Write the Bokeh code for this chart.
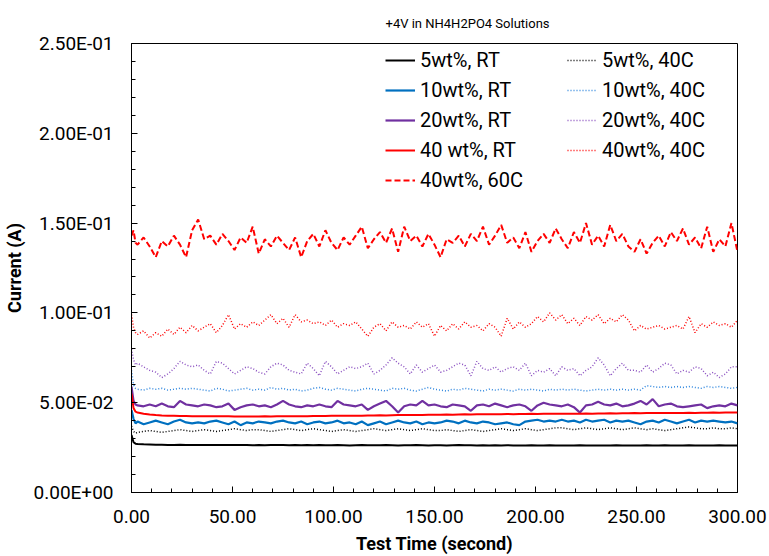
from bokeh.plotting import figure
from bokeh.models import (SingleIntervalTicker, CustomJSTickFormatter, PrintfTickFormatter,
                          Legend, LegendItem, Range1d)
from bokeh.embed import file_html
from bokeh.resources import INLINE

# ---------------- data (currents in mA, time in s) ----------------
time_s = [0, 1, 2] + list(range(3, 301, 3))

i_5wt_RT = [32, 28, 27.2,
    27, 26.8, 26.7, 26.6, 26.6, 26.5, 26.5, 26.6, 26.5, 26.4,
    26.5, 26.4, 26.5, 26.4, 26.5, 26.4, 26.4, 26.5, 26.4, 26.3,
    26.4, 26.3, 26.4, 26.5, 26.4, 26.3, 26.4, 26.3, 26.4, 26.3,
    26.4, 26.3, 26.3, 26.4, 26.3, 26.2, 26.3, 26.4, 26.3, 26.3,
    26.3, 26.4, 26.3, 26.2, 26.3, 26.3, 26.4, 26.3, 26.2, 26.3,
    26.3, 26.2, 26.3, 26.4, 26.3, 26.3, 26.2, 26.3, 26.2, 26.3,
    26.2, 26.3, 26.2, 26.1, 26.2, 26.3, 26.2, 26.2, 26.3, 26.2,
    26.2, 26.1, 26.2, 26.3, 26.2, 26.2, 26.1, 26.2, 26.2, 26.3,
    26.2, 26.2, 26.1, 26.2, 26.3, 26.2, 26.2, 26.3, 26.2, 26.2,
    26.2, 26.3, 26.2, 26.1, 26.2, 26.2, 26.3, 26.2, 26.2, 26.2]

i_10wt_RT = [46, 41, 38.5,
    39.5, 38, 39, 40, 39, 38, 39.5, 40.5, 39, 38.5,
    39, 38.5, 39.5, 40, 39, 38, 39.5, 37.5, 39, 38.5,
    39.5, 39, 38.5, 39.5, 40, 39, 38.5, 39.5, 38, 39,
    39.5, 38.5, 39, 40, 38.5, 39, 38, 39.5, 37.5, 38.5,
    39.5, 38, 39, 40, 39, 38.5, 39.5, 38, 39, 38.5,
    39, 40, 39.5, 38.5, 40, 39, 38.5, 39.5, 39, 38,
    38.5, 39, 38, 37.5, 39.5, 40, 40.5, 39.5, 40, 39.5,
    40.5, 39.5, 40, 39, 40.5, 39.5, 40, 40.5, 39, 40,
    39.5, 40, 39, 38, 39.5, 40, 39, 40.5, 39.5, 38.5,
    39.5, 40.5, 39, 40, 39.5, 40, 39.5, 39, 39.5, 38.5]

i_20wt_RT = [59, 51, 49,
    48.5, 48, 49, 48, 49.5, 48, 47.5, 51, 49, 48.5,
    48, 49, 48.5, 47.5, 48, 49.5, 46, 47.5, 48.5, 49,
    48, 48.5, 47.5, 49, 51, 49, 48, 47.5, 48.5, 48,
    49, 48, 47.5, 51, 49, 48.5, 48, 49, 46, 48,
    49.5, 51, 48, 44.5, 48, 49, 48.5, 51, 48.5, 49,
    48, 47.5, 49, 48.5, 48, 45.5, 48.5, 49, 48, 49.5,
    48.5, 47.5, 48.5, 49, 48, 45.5, 48.5, 50, 49, 48.5,
    48, 49, 47.5, 44.5, 48.5, 49, 50.5, 49, 48.5, 49.5,
    48, 48.5, 49.5, 51, 49, 52, 48, 49, 49.5, 48,
    47.5, 48, 48.5, 49, 47, 48, 48.5, 48, 49.5, 48.5]

i_40wt_RT = [55, 47, 45,
    44.5, 43.8, 43.4, 43.1, 42.9, 42.8, 42.7, 42.6, 42.6, 42.5,
    42.5, 42.5, 42.4, 42.4, 42.4, 42.4, 42.3, 42.3, 42.3, 42.3,
    42.3, 42.4, 42.3, 42.4, 42.4, 42.5, 42.4, 42.5, 42.5, 42.6,
    42.6, 42.6, 42.7, 42.7, 42.8, 42.7, 42.8, 42.8, 42.9, 42.9,
    43.0, 42.9, 43.0, 43.1, 43.1, 43.2, 43.1, 43.2, 43.3, 43.3,
    43.3, 43.4, 43.3, 43.4, 43.5, 43.4, 43.5, 43.5, 43.6, 43.6,
    43.6, 43.7, 43.6, 43.7, 43.7, 43.8, 43.7, 43.8, 43.8, 43.9,
    43.9, 43.9, 43.8, 43.9, 44.0, 43.9, 44.0, 44.0, 44.1, 44.0,
    44.1, 44.1, 44.2, 44.1, 44.2, 44.2, 44.3, 44.2, 44.3, 44.3,
    44.3, 44.4, 44.3, 44.4, 44.4, 44.5, 44.4, 44.5, 44.5, 44.5]

i_5wt_40C = [37, 34, 33,
    33.5, 34, 34.5, 34, 33.5, 34, 34.5, 35, 34.5, 34,
    34.5, 35, 34.5, 34, 34.5, 35, 35.5, 35, 34.5, 35,
    35, 34.5, 34, 34.5, 35, 35.5, 35, 34.5, 35, 35.5,
    35, 34.5, 34, 34.5, 35, 34.5, 34, 34.5, 35, 35.5,
    35, 34.5, 35, 35.5, 35, 34.5, 35, 35.5, 35, 34.5,
    34.5, 35, 34.5, 34, 34.5, 35, 34.5, 34, 34.5, 35,
    35.5, 35, 34.5, 35, 35.5, 35, 34.5, 35, 35.5, 36,
    36, 35.5, 35, 35.5, 36, 35.5, 35, 35.5, 36, 35.5,
    35, 35.5, 36, 35.5, 35, 35.5, 35, 34.5, 35, 35.5,
    36, 36.5, 36, 35.5, 35.5, 36, 35.5, 35.5, 36, 35.5]

i_10wt_40C = [68, 60, 58,
    57.5, 57, 58, 57.5, 58, 57, 57.5, 58, 57.5, 58,
    57.5, 57, 56.5, 58, 57.5, 56.5, 57, 57.5, 58, 57,
    57.5, 57, 58.5, 57.5, 58, 57, 57.5, 56.5, 57, 58,
    58.5, 57.5, 57, 58, 57.5, 57, 56.5, 57.5, 58, 57.5,
    57, 56.5, 58, 57.5, 58, 57, 56.5, 57.5, 58.5, 57.5,
    57, 56.5, 57.5, 57, 58, 57.5, 57, 56.5, 57.5, 57,
    57.5, 57, 56.5, 57.5, 57, 57.5, 57, 56.5, 57.5, 57,
    57.5, 57, 57.5, 57, 56.5, 57, 57.5, 57, 57.5, 57,
    57.5, 57, 57.5, 57, 59.5, 59, 58.5, 59, 58.5, 59,
    58.5, 59, 58.5, 58, 59, 58.5, 59, 58.5, 58, 58.5]

i_20wt_40C = [80, 74, 71,
    72, 70, 68, 67, 64, 66, 69, 73, 71, 70,
    71, 68, 66, 73, 72, 69, 66, 68, 70, 69,
    67, 66, 70, 72, 71, 68, 67, 66, 72, 69,
    65, 73, 70, 66, 68, 70, 69, 70, 72, 66,
    68, 71, 75, 72, 70, 66, 71, 67, 69, 71,
    67, 68, 70, 72, 71, 65, 73, 69, 68, 70,
    67, 69, 70, 68, 72, 65, 68, 67, 69, 65,
    70, 68, 69, 65, 68, 70, 75, 71, 65, 69,
    72, 68, 68, 67, 71, 67, 69, 72, 71, 66,
    68, 67, 70, 69, 65, 67, 64, 66, 70, 70]

i_40wt_40C = [99, 92, 89,
    88, 90, 86, 89, 87, 91, 88, 92, 89, 93,
    90, 92, 94, 89, 93, 99, 91, 94, 92, 95,
    93, 96, 99, 94, 97, 92, 99, 95, 96, 94,
    95, 93, 96, 92, 94, 93, 95, 91, 87, 92,
    94, 90, 95, 92, 93, 91, 95, 92, 94, 87,
    93, 90, 94, 91, 95, 92, 93, 90, 94, 92,
    87, 97, 91, 95, 92, 94, 98, 95, 100, 96,
    99, 94, 97, 93, 98, 96, 99, 94, 97, 95,
    99, 96, 90, 93, 91, 92, 93, 91, 92, 93,
    91, 98, 89, 94, 92, 95, 93, 94, 92, 96]

i_40wt_60C = [143, 146, 139,
    138, 142, 137, 131, 140, 137, 143, 138, 131, 146,
    152, 141, 143, 138, 144, 140, 135, 142, 139, 148,
    133, 141, 137, 143, 139, 135, 142, 131, 140, 144,
    137, 146, 139, 135, 142, 138, 143, 148, 136, 141,
    145, 139, 147, 134, 148, 140, 143, 137, 144, 138,
    131, 141, 139, 143, 137, 144, 140, 148, 138, 143,
    149, 139, 142, 136, 145, 134, 140, 144, 139, 147,
    141, 136, 145, 139, 150, 138, 143, 137, 149, 140,
    144, 137, 134, 141, 133, 139, 143, 137, 145, 140,
    147, 138, 142, 136, 148, 134, 141, 137, 150, 134]

labels = ["5wt%, RT", "10wt%, RT", "20wt%, RT", "40 wt%, RT",
          "5wt%, 40C", "10wt%, 40C", "20wt%, 40C", "40wt%, 40C", "40wt%, 60C"]
x_ticks_major = 50
y_ticks_major = 0.05

# ---------------- figure ----------------
FONT = "Roboto"
p = figure(width=769, height=556, output_backend="svg", toolbar_location=None,
           x_range=Range1d(0, 300), y_range=Range1d(0, 0.25),
           min_border_left=129, min_border_right=32, min_border_top=43, min_border_bottom=64,
           background_fill_color="white", border_fill_color="white")
p.outline_line_color = "black"
p.outline_line_width = 1
p.xgrid.visible = False
p.ygrid.visible = False

p.title.text = "+4V in NH4H2PO4 Solutions"
p.title.align = "left"
p.title.offset = 254
p.title.text_font = FONT
p.title.text_font_size = "13px"
p.title.text_font_style = "normal"
p.title.text_color = "black"
p.title.standoff = 26

for ax in (p.xaxis[0], p.yaxis[0]):
    ax.axis_line_color = "black"
    ax.axis_line_width = 1
    ax.major_tick_in = 6
    ax.major_tick_out = 0
    ax.minor_tick_in = 4
    ax.minor_tick_out = 0
    ax.major_tick_line_color = "black"
    ax.minor_tick_line_color = "black"
    ax.major_label_text_font = FONT
    ax.major_label_text_font_size = "19px"
    ax.major_label_text_color = "black"
    ax.axis_label_text_font = FONT
    ax.axis_label_text_font_size = "18px"
    ax.axis_label_text_font_style = "bold"
    ax.axis_label_text_color = "black"

p.xaxis.ticker = SingleIntervalTicker(interval=x_ticks_major, num_minor_ticks=5)
p.yaxis.ticker = SingleIntervalTicker(interval=y_ticks_major, num_minor_ticks=5)
p.xaxis.formatter = PrintfTickFormatter(format="%.2f")
p.yaxis.formatter = CustomJSTickFormatter(code="""
    const s = tick.toExponential(2).toUpperCase();
    const parts = s.split('E');
    const sign = parts[1][0];
    let d = parts[1].slice(1);
    if (d.length < 2) { d = '0' + d; }
    return parts[0] + 'E' + sign + d;
""")
p.xaxis.axis_label = "Test Time (second)"
p.yaxis.axis_label = "Current (A)"
p.xaxis.major_label_standoff = 17
p.yaxis.major_label_standoff = 18
p.xaxis.axis_label_standoff = 7
p.yaxis.axis_label_standoff = 6

def amps(lst):
    return [v / 1000.0 for v in lst]

series = [
    (i_5wt_RT, "#000000", None, 2),
    (i_10wt_RT, "#0070C0", None, 2.2),
    (i_20wt_RT, "#7030A0", None, 2.2),
    (i_40wt_RT, "#FF0000", None, 2),
    (i_5wt_40C, "#000000", "1 2", 1.5),
    (i_10wt_40C, "#2E86DE", "1 2", 1.5),
    (i_20wt_40C, "#8A4FC0", "1 2", 1.5),
    (i_40wt_40C, "#FF0000", "1 2", 1.5),
    (i_40wt_60C, "#FF0000", "6 3", 2),
]
renderers = []
for vals, col, dash, w in series:
    kw = dict(line_color=col, line_width=w)
    if dash:
        kw["line_dash"] = dash
    renderers.append(p.line(time_s, amps(vals), **kw))

def make_legend(idx, loc):
    lg = Legend(items=[LegendItem(label=labels[i], renderers=[renderers[i]]) for i in idx],
                location=loc, orientation="vertical")
    lg.label_text_font = FONT
    lg.label_text_font_size = "20px"
    lg.label_text_color = "black"
    lg.glyph_width = 30
    lg.glyph_height = 20
    lg.label_height = 20
    lg.label_standoff = 5
    lg.spacing = 6
    lg.padding = 0
    lg.margin = 0
    lg.border_line_alpha = 0
    lg.background_fill_alpha = 0
    return lg

p.add_layout(make_legend([0, 1, 2, 3, 8], (254, 300)))
p.add_layout(make_legend([4, 5, 6, 7], (436, 330)))

open("out.html", "w").write(file_html(p, INLINE))
